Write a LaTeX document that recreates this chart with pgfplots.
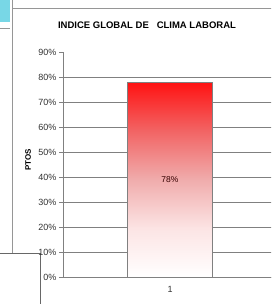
\documentclass[border=0pt]{standalone}
\usepackage{fontspec}
\setmainfont{Liberation Sans}
\usepackage{pgfplots}
\pgfplotsset{compat=1.18}
\definecolor{gridgray}{RGB}{128,128,128}
\definecolor{framegray}{RGB}{150,150,150}
\definecolor{cyanpatch}{RGB}{120,215,230}
\begin{document}
\begin{tikzpicture}[x=1pt,y=1pt]
\useasboundingbox (0,0) rectangle (271,304);
\clip (0,0) rectangle (271,304);
\fill[white] (0,0) rectangle (271,304);
\fill[cyanpatch] (0,304) rectangle (10,282);
\draw[framegray, line width=0.6pt] (0,276) -- (10,276);
\draw[framegray, line width=0.8pt] (12,304.5) -- (12,296) -- (272,296);
\draw[framegray, line width=0.8pt] (12,296) -- (12,51);
\draw[gridgray!80!black, line width=0.9pt] (0,51) -- (40,51) -- (40,0);
\node[font=\fontsize{9.5}{11}\selectfont\bfseries] at (147,279) {INDICE GLOBAL DE \ \ CLIMA LABORAL};
\node[font=\fontsize{8}{9}\selectfont\bfseries] at (28,144) [rotate=90] {PTOS};
\begin{axis}[
  at={(63pt,27pt)}, anchor=south west,
  scale only axis, width=214pt, height=225pt,
  xmin=0.5, xmax=1.5, ymin=0, ymax=90,
  axis lines*=left,
  axis line style={gridgray, line width=0.8pt},
  ytick={0,10,...,80},
  extra y ticks={90},
  extra y tick labels={90\%},
  extra y tick style={grid=none},
  yticklabel={\pgfmathprintnumber{\tick}\%},
  xtick={1}, xticklabels={1},
  xtick style={draw=none},
  ytick style={gridgray, line width=0.8pt},
  tick align=outside,
  major tick length=4pt,
  ymajorgrids,
  grid style={gridgray, line width=0.8pt},
  tick label style={font=\fontsize{9}{10}\selectfont, text=black!80},
  /pgf/number format/assume math mode=true,
  yticklabel style={xshift=1pt},
  xticklabel style={yshift=-2pt},
  clip=false,
  colormap={rw}{rgb255=(255,255,255) rgb255=(252,228,228) rgb255=(240,172,172) rgb255=(242,100,100) rgb255=(255,18,18)},
]
% gradient fill of the bar (value 78 %)
\addplot[patch, patch type=rectangle, shader=interp, point meta=explicit,
  point meta min=0, point meta max=78]
  coordinates {(0.80140,0) [0] (1.19860,0) [0] (1.19860,78) [78] (0.80140,78) [78]};
% bar outline and value label
\addplot[ybar, bar width=85pt, draw=gridgray, line width=0.8pt, fill=none,
  visualization depends on={y/2 \as \half},
  nodes near coords={\pgfmathprintnumber{\pgfplotspointmeta}\%},
  every node near coord/.append style={anchor=center, shift={(axis direction cs:0,-\half)}, font=\fontsize{8.5}{9}\selectfont, text=black!65!red!60!black},
] coordinates {(1,78)};
\end{axis}
\end{tikzpicture}
\end{document}
